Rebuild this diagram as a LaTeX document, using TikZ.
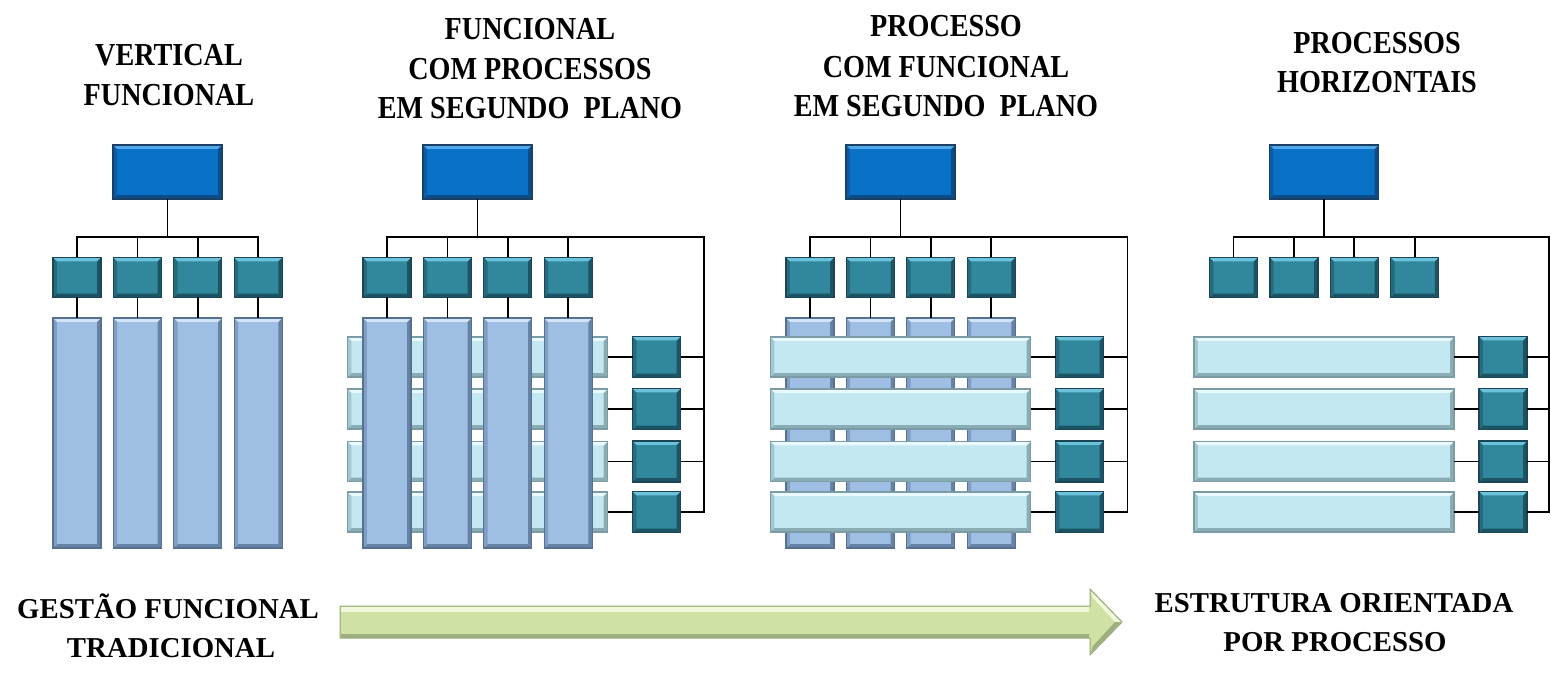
\documentclass[tikz,border=0pt]{standalone}
\usepackage{fontspec}
\setmainfont{Liberation Serif}
\newfontfamily\titlefont[FakeStretch=0.88]{Liberation Serif}
\usetikzlibrary{calc}
\definecolor{topfill}{HTML}{0A72C6}
\definecolor{toplight}{HTML}{52A9EA}
\definecolor{topdark}{HTML}{0A4C88}
\definecolor{topedge}{HTML}{1C3F66}
\definecolor{sfill}{HTML}{31879C}
\definecolor{slight}{HTML}{6CC2DB}
\definecolor{sdark}{HTML}{1B5464}
\definecolor{sedge}{HTML}{1C4656}
\definecolor{vfill}{HTML}{9FBEE4}
\definecolor{vlight}{HTML}{D2E4F8}
\definecolor{vdark}{HTML}{6683A6}
\definecolor{vedge}{HTML}{56708F}
\definecolor{hfill}{HTML}{C4E8F2}
\definecolor{hlight}{HTML}{EAF9FD}
\definecolor{hdark}{HTML}{89ACB5}
\definecolor{hedge}{HTML}{7C9CA5}
\definecolor{afill}{HTML}{CFE2A4}
\definecolor{alight}{HTML}{F0F7DA}
\definecolor{adark}{HTML}{9DAF7C}
\definecolor{aedge}{HTML}{97A977}
\def\bevw{1.9pt}
\tikzset{
  bev/.style n args={4}{rectangle, inner sep=0pt, outer sep=0pt, fill=#1, draw=#4, line width=0.6pt,
    path picture={
      \fill[#3] (path picture bounding box.south west) -- (path picture bounding box.south east)
        -- ([shift={(-\bevw,\bevw)}]path picture bounding box.south east)
        -- ([shift={(\bevw,\bevw)}]path picture bounding box.south west) -- cycle;
      \fill[#3] (path picture bounding box.north east) -- (path picture bounding box.south east)
        -- ([shift={(-\bevw,\bevw)}]path picture bounding box.south east)
        -- ([shift={(-\bevw,-\bevw)}]path picture bounding box.north east) -- cycle;
      \fill[#3!55!#1] (path picture bounding box.north west) -- (path picture bounding box.south west)
        -- ([shift={(\bevw,\bevw)}]path picture bounding box.south west)
        -- ([shift={(\bevw,-\bevw)}]path picture bounding box.north west) -- cycle;
      \fill[#2] (path picture bounding box.north west) -- (path picture bounding box.north east)
        -- ([shift={(-\bevw,-\bevw)}]path picture bounding box.north east)
        -- ([shift={(\bevw,-\bevw)}]path picture bounding box.north west) -- cycle;
    }},
  topbox/.style={bev={topfill}{toplight}{topdark}{topedge}, minimum width=54.5pt, minimum height=27pt},
  sbox/.style={bev={sfill}{slight}{sdark}{sedge}, minimum width=24pt, minimum height=20pt},
  rbox/.style={bev={sfill}{slight}{sdark}{sedge}, minimum width=24pt, minimum height=20.5pt},
  vbar/.style={bev={vfill}{vlight}{vdark}{vedge}, minimum width=24pt, minimum height=115pt},
  hbar/.style={bev={hfill}{hlight}{hdark}{hedge}, minimum width=130pt, minimum height=20pt},
  conn/.style={draw=black, line width=0.85pt},
  ttl/.style={font=\titlefont\bfseries\fontsize{16}{19}\selectfont, anchor=base, inner sep=0pt},
  btm/.style={font=\bfseries\fontsize{14.4}{17}\selectfont, anchor=base, inner sep=0pt},
}
% #1 prefix, #2 x of first sub box centre
\newcommand\toppart[2]{%
  \node[topbox] (#1-top) at ({#2+90.5},172) {};
  \foreach \i in {1,...,4} {\node[sbox] (#1-s\i) at ({#2+60.4*(\i-1)},277.5) {};}
  \coordinate (#1-bus) at ({#2+90.5},237);
  \draw[conn] (#1-top.south) -- (#1-bus);
}
\newcommand\vbars[2]{%
  \foreach \i in {1,...,4} {%
    \node[vbar] (#1-v\i) at ({#2+60.4*(\i-1)},433) {};
    \draw[conn] (#1-s\i.south) -- (#1-v\i.north);
  }
}
\newcommand\hbars[2]{%
  \foreach \j/\yy in {1/357,2/409,3/461.5,4/512} {%
    \node[hbar] (#1-h\j) at ({#2+90.5},\yy) {};
  }
}
\newcommand\rightpart[3]{%
  \foreach \j/\yy in {1/357,2/409,3/461.5,4/512} {%
    \node[rbox] (#1-r\j) at ({#2+269.5},\yy) {};
    \draw[conn] (#1-h\j.east) -- (#1-r\j.west);
  }
  \coordinate (#1-rl) at ({#2+#3},237);
  \draw[conn] (#1-s1.north) |- (#1-rl) -- (#1-rl |- #1-r4.east) -- (#1-r4.east);
  \foreach \j in {1,2,3} {\draw[conn] (#1-r\j.east) -- (#1-rl |- #1-r\j.east);}
  \foreach \i in {2,3,4} {\draw[conn] (#1-s\i.north) -- (#1-s\i.north |- #1-bus);}
}
\begin{document}
\begin{tikzpicture}[x=0.5pt,y=-0.5pt]
\useasboundingbox (0,0) rectangle (1551,683);
\fill[white] (0,0) rectangle (1551,683);

% Panel 1
\toppart{a}{77}
\vbars{a}{77}
\draw[conn] (a-s1.north) |- (a-s4.north |- a-bus) -- (a-s4.north);
\foreach \i in {2,3} {\draw[conn] (a-s\i.north) -- (a-s\i.north |- a-bus);}

% Panel 2
\toppart{b}{387}
\hbars{b}{387}
\vbars{b}{387}
\rightpart{b}{387}{317}

% Panel 3
\toppart{c}{810}
\vbars{c}{810}
\hbars{c}{810}
\rightpart{c}{810}{317.5}

% Panel 4
\toppart{d}{1233.5}
\hbars{d}{1233.5}
\rightpart{d}{1233.5}{315.5}

% Titles
\node[ttl] (t1a) at (169,66) {VERTICAL};
\node[ttl] (t1b) at (169,106) {FUNCIONAL};
\node[ttl] (t2a) at (530,40) {FUNCIONAL};
\node[ttl] (t2b) at (530,80) {COM PROCESSOS};
\node[ttl] (t2c) at (530,119) {EM SEGUNDO\ \ PLANO};
\node[ttl] (t3a) at (946,37) {PROCESSO};
\node[ttl] (t3b) at (946,78) {COM FUNCIONAL};
\node[ttl] (t3c) at (946,117) {EM SEGUNDO\ \ PLANO};
\node[ttl] (t4a) at (1377,54) {PROCESSOS};
\node[ttl] (t4b) at (1377,93) {HORIZONTAIS};

% Bottom arrow
\fill[afill] (340,606) -- (1090,606) -- (1090,589) -- (1122,622) -- (1090,655) -- (1090,638) -- (340,638) -- cycle;
\fill[alight] (341,607) rectangle (1089,612);
\fill[adark] (341,633.5) rectangle (1089,637.5);
\fill[alight] (1090.5,590.5) -- (1121,622) -- (1115,622) -- (1093,598) -- cycle;
\fill[adark] (1090.5,653.5) -- (1121,622) -- (1115,622) -- (1093,646) -- cycle;
\draw[aedge, line width=0.5pt, line join=miter] (340,606) -- (1090,606) -- (1090,589) -- (1122,622) -- (1090,655) -- (1090,638) -- (340,638) -- cycle;

% Bottom labels
\node[btm] (b1a) at (168,618) {GESTÃO FUNCIONAL};
\node[btm] (b1b) at (171,657) {TRADICIONAL};
\node[btm] (b2a) at (1334,612) {ESTRUTURA ORIENTADA};
\node[btm] (b2b) at (1335,651) {POR PROCESSO};
\end{tikzpicture}
\end{document}
